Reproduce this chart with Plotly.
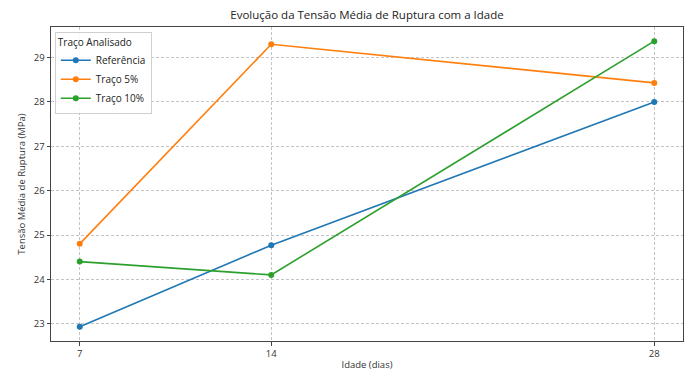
import plotly.graph_objects as go

idade = [7, 14, 28]
referencia = [22.93, 24.77, 28.0]
traco5 = [24.80, 29.30, 28.43]
traco10 = [24.40, 24.10, 29.37]

series = [("Referência", referencia, "#1f77b4"),
          ("Traço 5%", traco5, "#ff7f0e"),
          ("Traço 10%", traco10, "#2ca02c")]

FONT = "Open Sans"
fig = go.Figure()
for name, vals, col in series:
    fig.add_trace(go.Scatter(x=idade, y=vals, name=name, mode="lines+markers",
                             line=dict(color=col, width=1.6),
                             marker=dict(color=col, size=6)))

axis_common = dict(showline=True, linecolor="#444", linewidth=1, mirror=True,
                   showgrid=True, gridcolor="#c4c4c4", griddash="3px,2px", gridwidth=0.8,
                   ticks="outside", ticklen=3.5, tickcolor="#444",
                   tickfont=dict(family=FONT, size=9.5, color="#333"),
                   zeroline=False, automargin=False)

fig.update_layout(
    width=690, height=371,
    margin=dict(l=51, r=7, t=27, b=30),
    paper_bgcolor="white", plot_bgcolor="white",
    title=dict(text="Evolução da Tensão Média de Ruptura com a Idade",
               x=0.5, xref="paper", xanchor="center", y=1, yref="container", yanchor="top",
               pad=dict(t=11),
               font=dict(family=FONT, size=11.5, color="#222")),
    xaxis=dict(range=[5.95, 29.05], tickvals=idade, ticktext=[str(v) for v in idade],
               title=dict(text="Idade (dias)", font=dict(family=FONT, size=9.5, color="#333"), standoff=4),
               **axis_common),
    yaxis=dict(range=[22.61, 29.69], tickvals=[23, 24, 25, 26, 27, 28, 29],
               title=dict(text="Tensão Média de Ruptura (MPa)", font=dict(family=FONT, size=9.5, color="#333"), standoff=6),
               **axis_common),
    legend=dict(x=0.006, y=0.985, xanchor="left", yanchor="top",
                bgcolor="rgba(255,255,255,0.85)", bordercolor="#d0d0d0", borderwidth=1,
                title=dict(text="Traço Analisado", font=dict(family=FONT, size=10, color="#222")),
                font=dict(family=FONT, size=10, color="#222"),
                itemwidth=30, tracegroupgap=0),
    showlegend=True,
)

fig.write_html("out.html")
